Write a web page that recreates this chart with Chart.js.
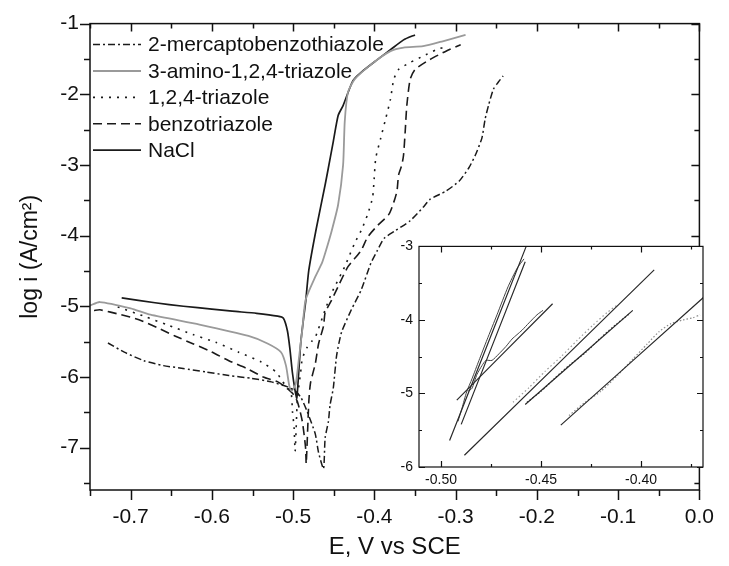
<!DOCTYPE html>
<html>
<head>
<meta charset="utf-8">
<script src="https://cdn.jsdelivr.net/npm/chart.js@4.4.1/dist/chart.umd.min.js"></script>
<style>
  html, body { margin: 0; padding: 0; background: #fff; }
  #wrap { position: relative; width: 729px; height: 566px; }
  #main { position: absolute; left: 0; top: 0; }
  #inset { position: absolute; left: 380px; top: 232px; }
</style>
</head>
<body>
<div id="wrap">
  <canvas id="main" width="729" height="566"></canvas>
  <canvas id="inset" width="335" height="262"></canvas>
</div>
<script>
const legendNames = ["2-mercaptobenzothiazole", "3-amino-1,2,4-triazole", "1,2,4-triazole", "benzotriazole", "NaCl"];

// main plot: E (V vs SCE) and log i
const mbtE = [-0.7279, -0.7078, -0.6837, -0.6596, -0.6354, -0.6073, -0.5791, -0.551, -0.5269, -0.5068, -0.497, -0.49, -0.4827, -0.4727, -0.4687, -0.4626, -0.4606, -0.4566, -0.4546, -0.4506, -0.4465, -0.4405, -0.4284, -0.4163, -0.4043, -0.3963, -0.3882, -0.3741, -0.356, -0.34, -0.3319, -0.3119, -0.2958, -0.2837, -0.2757, -0.2677, -0.2637, -0.2596, -0.2536, -0.2476, -0.2416];
const mbtLogI = [-5.52, -5.65, -5.77, -5.84, -5.88, -5.93, -5.98, -6.02, -6.07, -6.14, -6.2, -6.3, -6.49, -6.81, -7.07, -7.3, -6.86, -6.63, -6.4, -6.16, -5.7, -5.37, -5.05, -4.77, -4.39, -4.21, -4.04, -3.93, -3.79, -3.6, -3.49, -3.37, -3.23, -3.04, -2.86, -2.62, -2.35, -2.16, -1.93, -1.83, -1.74];

const atE = [-0.75, -0.7379, -0.7, -0.6756, -0.6153, -0.555, -0.5309, -0.5149, -0.5088, -0.5048, -0.502, -0.4968, -0.4925, -0.4887, -0.4847, -0.4727, -0.4646, -0.4606, -0.4525, -0.4446, -0.4385, -0.4365, -0.4325, -0.4244, -0.4043, -0.3802, -0.3641, -0.34, -0.3159, -0.2878];
const atLogI = [-4.99, -4.94, -5.03, -5.12, -5.26, -5.42, -5.53, -5.65, -5.84, -6.12, -6.2, -6.1, -5.7, -5.33, -4.91, -4.58, -4.39, -4.25, -3.93, -3.56, -3.0, -2.39, -1.97, -1.79, -1.58, -1.39, -1.34, -1.32, -1.25, -1.16];

const triE = [-0.7159, -0.6837, -0.6556, -0.6234, -0.5953, -0.5671, -0.539, -0.5209, -0.5128, -0.5028, -0.5008, -0.4988, -0.4975, -0.4947, -0.4907, -0.4887, -0.4827, -0.4767, -0.4727, -0.4606, -0.4525, -0.4365, -0.4244, -0.4163, -0.4083, -0.4022, -0.4003, -0.3983, -0.3922, -0.3862, -0.3802, -0.3762, -0.3702, -0.356, -0.34, -0.324, -0.31];
const triLogI = [-5.01, -5.14, -5.26, -5.4, -5.51, -5.65, -5.79, -5.93, -6.07, -6.21, -6.49, -6.72, -7.05, -6.3, -5.93, -5.74, -5.58, -5.49, -5.44, -5.05, -4.81, -4.44, -4.11, -3.93, -3.7, -3.46, -3.2, -2.9, -2.62, -2.35, -2.07, -1.79, -1.65, -1.55, -1.46, -1.37, -1.32];

const btaE = [-0.745, -0.7379, -0.7118, -0.6897, -0.6676, -0.6455, -0.6234, -0.6013, -0.5791, -0.557, -0.5369, -0.5188, -0.5088, -0.5008, -0.4947, -0.4887, -0.4847, -0.4839, -0.4807, -0.4787, -0.4727, -0.4687, -0.4626, -0.4606, -0.4525, -0.4446, -0.4325, -0.4163, -0.4083, -0.3963, -0.3822, -0.3762, -0.3722, -0.3702, -0.3662, -0.3641, -0.3621, -0.3601, -0.356, -0.35, -0.3319, -0.3119, -0.2938];
const btaLogI = [-5.06, -5.05, -5.12, -5.19, -5.3, -5.42, -5.53, -5.64, -5.77, -5.88, -6.0, -6.07, -6.15, -6.23, -6.35, -6.63, -7.0, -7.23, -6.35, -6.09, -5.81, -5.53, -5.28, -5.09, -4.91, -4.72, -4.44, -4.21, -4.02, -3.86, -3.7, -3.53, -3.37, -3.14, -3.0, -2.86, -2.53, -2.16, -1.79, -1.65, -1.51, -1.39, -1.3];

const naclE = [-0.711, -0.67, -0.635, -0.6, -0.575, -0.545, -0.519, -0.512, -0.507, -0.504, -0.501, -0.4975, -0.4955, -0.4935, -0.4905, -0.4867, -0.4847, -0.4807, -0.4715, -0.4606, -0.4566, -0.4506, -0.4446, -0.4385, -0.4265, -0.4163, -0.3963, -0.3802, -0.3641, -0.35];
const naclLogI = [-4.88, -4.95, -5.0, -5.04, -5.07, -5.1, -5.14, -5.17, -5.35, -5.6, -5.93, -6.2, -6.3, -6.0, -5.5, -5.13, -4.95, -4.49, -3.9, -3.28, -3.04, -2.67, -2.3, -2.16, -1.81, -1.69, -1.51, -1.37, -1.23, -1.16];

// main ticks
const xTicks = [-0.7, -0.6, -0.5, -0.4, -0.3, -0.2, -0.1, 0.0];
const xMinorTicks = [-0.75, -0.65, -0.55, -0.45, -0.35, -0.25, -0.15, -0.05];
const yTicks = [-1, -2, -3, -4, -5, -6, -7];
const yMinorTicks = [-1.5, -2.5, -3.5, -4.5, -5.5, -6.5, -7.5];

// inset: Tafel fit lines (two end points each) and the data near them
const fitAE = [-0.4957, -0.4574], fitALogI = [-5.64, -3.0];
const fitBE = [-0.4899, -0.4579], fitBLogI = [-5.42, -3.21];
const fitCE = [-0.4921, -0.4442], fitCLogI = [-5.09, -3.78];
const fitDE = [-0.4883, -0.3934], fitDLogI = [-5.84, -3.32];
const fitEE = [-0.4579, -0.4041], fitELogI = [-5.15, -3.87];
const fitFE = [-0.4401, -0.3686], fitFLogI = [-5.43, -3.69];

const insetAE = [-0.4915, -0.4895, -0.4872, -0.4845, -0.481, -0.477, -0.472, -0.4665, -0.462, -0.4585];
const insetALogI = [-5.38, -5.2, -4.98, -4.8, -4.55, -4.27, -3.93, -3.55, -3.3, -3.17];
const insetBE = [-0.4865, -0.4845, -0.482, -0.4795, -0.4775, -0.4745, -0.471, -0.4675, -0.4645, -0.462, -0.4595, -0.456, -0.452, -0.449];
const insetBLogI = [-4.97, -4.93, -4.74, -4.62, -4.55, -4.55, -4.46, -4.36, -4.26, -4.2, -4.14, -4.04, -3.93, -3.87];
const insetDE = [-0.464, -0.456, -0.448, -0.44, -0.432, -0.424, -0.417, -0.412];
const insetDLogI = [-5.12, -4.92, -4.7, -4.5, -4.28, -4.07, -3.9, -3.8];
const insetEE = [-0.457, -0.45, -0.443, -0.436, -0.428, -0.42, -0.412, -0.406];
const insetELogI = [-5.12, -4.97, -4.79, -4.62, -4.45, -4.24, -4.05, -3.92];
const insetFE = [-0.436, -0.428, -0.42, -0.412, -0.404, -0.397, -0.391, -0.385, -0.379, -0.374, -0.3705];
const insetFLogI = [-5.3, -5.12, -4.97, -4.76, -4.53, -4.33, -4.16, -4.05, -4.0, -3.97, -3.93];

const insetXTicks = [-0.5, -0.45, -0.4];
const insetXMinorTicks = [-0.475, -0.425, -0.375];
const insetYTicks = [-3, -4, -5, -6];
const insetYMinorTicks = [-3.5, -4.5, -5.5];

const fontFamily = '"Liberation Sans", Arial, Helvetica, sans-serif';
Chart.defaults.font.family = fontFamily;
Chart.defaults.color = "#111";

function curve(label, xs, ys, color, dash, width) {
  return {
    label: label,
    data: xs.map((x, i) => ({ x: x, y: ys[i] })),
    borderColor: color,
    backgroundColor: color,
    borderDash: dash,
    borderWidth: width,
    pointRadius: 0,
    fill: false,
  };
}

function setTicks(vals) {
  return (scale) => { scale.ticks = vals.map((v) => ({ value: v })); };
}

// frame round the plot area plus major / minor tick marks on all four sides
const axisFrame = {
  id: "axisFrame",
  beforeDraw(chart, args, o) {
    if (!o.fill) return;
    const a = chart.chartArea;
    chart.ctx.save();
    chart.ctx.fillStyle = o.fill;
    chart.ctx.fillRect(a.left, a.top, a.width, a.height);
    chart.ctx.restore();
  },
  afterDraw(chart, args, o) {
    const { ctx, chartArea: a, scales: { x, y } } = chart;
    ctx.save();
    ctx.strokeStyle = "#111";
    ctx.lineWidth = o.lineWidth;
    ctx.strokeRect(a.left, a.top, a.width, a.height);
    ctx.beginPath();
    const xs = (vals, out, inn) => vals.forEach((v) => {
      const p = Math.round(x.getPixelForValue(v)) + 0.5;
      ctx.moveTo(p, a.bottom); ctx.lineTo(p, a.bottom + out);
      ctx.moveTo(p, a.top); ctx.lineTo(p, a.top + inn);
    });
    const ys = (vals, out, inn) => vals.forEach((v) => {
      const p = Math.round(y.getPixelForValue(v)) + 0.5;
      ctx.moveTo(a.left, p); ctx.lineTo(a.left - out, p);
      ctx.moveTo(a.right, p); ctx.lineTo(a.right - inn, p);
    });
    xs(o.xMajor, o.outer[0], o.inner[0]);
    xs(o.xMinor, o.outer[1], o.inner[1]);
    ys(o.yMajor, o.outer[0], o.inner[0]);
    ys(o.yMinor, o.outer[1], o.inner[1]);
    ctx.stroke();
    ctx.restore();
  },
};

// legend inside the plot, sample line drawn with each dataset's dash
const curveLegend = {
  id: "curveLegend",
  afterDatasetsDraw(chart, args, o) {
    const { ctx, chartArea: a } = chart;
    ctx.save();
    ctx.font = o.font;
    ctx.textBaseline = "middle";
    chart.data.datasets.forEach((ds, i) => {
      const yy = a.top + o.top + i * o.step;
      ctx.strokeStyle = ds.borderColor;
      ctx.lineWidth = ds.borderWidth;
      ctx.setLineDash(ds.borderDash);
      ctx.beginPath();
      ctx.moveTo(a.left + o.lineStart, yy);
      ctx.lineTo(a.left + o.lineEnd, yy);
      ctx.stroke();
      ctx.fillStyle = "#111";
      ctx.fillText(ds.label, a.left + o.textX, yy + 1);
    });
    ctx.restore();
  },
};

new Chart(document.getElementById("main"), {
  type: "line",
  data: {
    datasets: [
      curve(legendNames[0], mbtE, mbtLogI, "#1a1a1a", [7, 3, 2, 3], 1.5),
      curve(legendNames[1], atE, atLogI, "#9a9a9a", [], 1.8),
      curve(legendNames[2], triE, triLogI, "#1a1a1a", [2, 6], 1.6),
      curve(legendNames[3], btaE, btaLogI, "#1a1a1a", [9, 5], 1.6),
      curve(legendNames[4], naclE, naclLogI, "#1a1a1a", [], 1.7),
    ],
  },
  options: {
    responsive: false,
    animation: false,
    events: [],
    layout: { padding: { top: 17, right: 17 } },
    elements: { line: { tension: 0.2 } },
    scales: {
      x: {
        type: "linear",
        min: -0.75,
        max: 0,
        grid: { display: false, drawTicks: false },
        border: { display: false },
        afterBuildTicks: setTicks(xTicks),
        afterFit: (s) => { s.height = 76; },
        ticks: { padding: 15, font: { size: 21 }, callback: (v) => v.toFixed(1) },
        title: { display: true, text: "E, V vs SCE", font: { size: 24 }, padding: { bottom: 4 } },
      },
      y: {
        type: "linear",
        min: -7.6,
        max: -1,
        grid: { display: false, drawTicks: false },
        border: { display: false },
        afterBuildTicks: setTicks(yTicks),
        afterFit: (s) => { s.width = 90; },
        ticks: { padding: 11, font: { size: 21 }, callback: (v) => String(v) },
        title: { display: true, text: "log i (A/cm²)", font: { size: 23 }, padding: { top: 17 } },
      },
    },
    plugins: {
      legend: { display: false },
      tooltip: { enabled: false },
      curveLegend: {
        font: "21px " + fontFamily,
        top: 21, step: 26.4,
        lineStart: 3, lineEnd: 51, textX: 58,
      },
      axisFrame: {
        lineWidth: 1.5,
        xMajor: xTicks, xMinor: xMinorTicks,
        yMajor: yTicks, yMinor: yMinorTicks,
        outer: [10, 6], inner: [8, 5],
      },
    },
  },
  plugins: [axisFrame, curveLegend],
});

const fitColor = "#2a2a2a";
new Chart(document.getElementById("inset"), {
  type: "line",
  data: {
    datasets: [
      curve("fitA", fitAE, fitALogI, fitColor, [], 1.2),
      curve("fitB", fitBE, fitBLogI, fitColor, [], 1.2),
      curve("fitC", fitCE, fitCLogI, fitColor, [], 1.2),
      curve("fitD", fitDE, fitDLogI, fitColor, [], 1.2),
      curve("fitE", fitEE, fitELogI, fitColor, [], 1.2),
      curve("fitF", fitFE, fitFLogI, fitColor, [], 1.2),
      curve("dataA", insetAE, insetALogI, "#444", [], 1.0),
      curve("dataB", insetBE, insetBLogI, "#444", [], 1.0),
      curve("dataD", insetDE, insetDLogI, "#9a9a9a", [1.5, 2.5], 1.2),
      curve("dataE", insetEE, insetELogI, "#333", [1.5, 2], 1.2),
      curve("dataF", insetFE, insetFLogI, "#8a8a8a", [1.5, 2], 1.2),
    ],
  },
  options: {
    responsive: false,
    animation: false,
    events: [],
    layout: { padding: { top: 11, right: 12 } },
    elements: { line: { tension: 0.2 } },
    scales: {
      x: {
        type: "linear",
        min: -0.511,
        max: -0.369,
        grid: { display: false, drawTicks: false },
        border: { display: false },
        afterBuildTicks: setTicks(insetXTicks),
        afterFit: (s) => { s.height = 27; },
        ticks: { padding: 5, font: { size: 14 }, callback: (v) => v.toFixed(2) },
      },
      y: {
        type: "linear",
        min: -6,
        max: -3,
        grid: { display: false, drawTicks: false },
        border: { display: false },
        afterBuildTicks: setTicks(insetYTicks),
        afterFit: (s) => { s.width = 39; },
        ticks: { padding: 6, font: { size: 14 }, callback: (v) => String(v) },
      },
    },
    plugins: {
      legend: { display: false },
      tooltip: { enabled: false },
      axisFrame: {
        fill: "#fff",
        lineWidth: 1.2,
        xMajor: insetXTicks, xMinor: insetXMinorTicks,
        yMajor: insetYTicks, yMinor: insetYMinorTicks,
        outer: [-6, -3], inner: [6, 3],
      },
    },
  },
  plugins: [axisFrame],
});
</script>
</body>
</html>
